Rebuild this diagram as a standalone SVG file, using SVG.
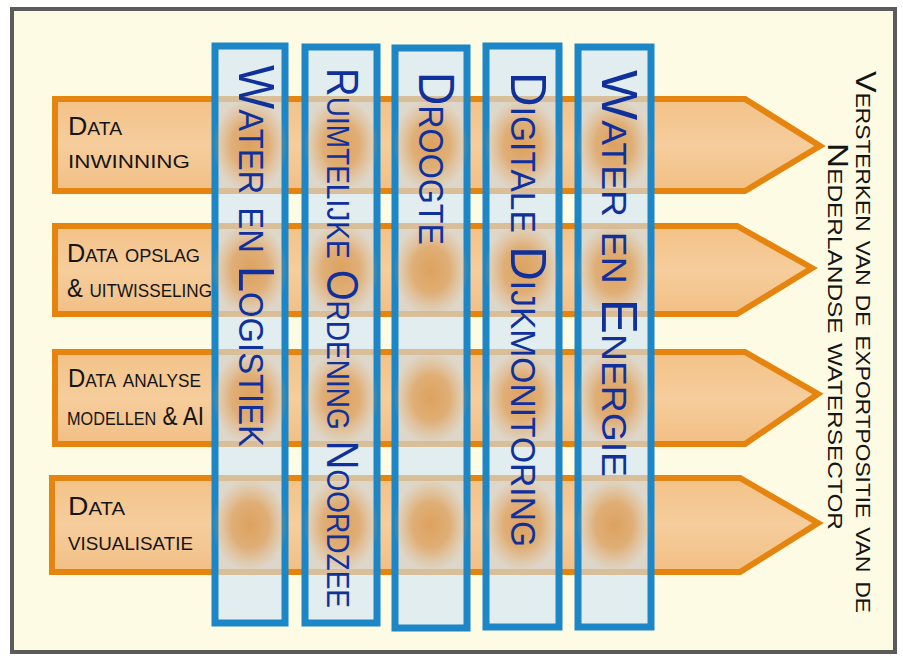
<svg xmlns="http://www.w3.org/2000/svg" width="903" height="657" viewBox="0 0 903 657">
<style>
.frame{fill:#FDFBE3;stroke:#5b5b5b;stroke-width:4}
.arrow{fill:url(#arrowFill);stroke:#E5850F;stroke-width:6;stroke-linejoin:miter}
.col{fill:#CFE5F5;fill-opacity:0.6;stroke:#1C86C6;stroke-width:7}
.coltxt{font-family:"Liberation Sans","DejaVu Sans",sans-serif;font-variant:small-caps;font-size:50px;fill:#10309C}
.lbl{font-family:"Liberation Sans","DejaVu Sans",sans-serif;font-variant:small-caps;font-size:25px;fill:#151515}
.goal{font-family:"Liberation Sans","DejaVu Sans",sans-serif;font-variant:small-caps;font-size:30px;fill:#151515}
.blob{fill:url(#blobFill)}
</style>
<defs>
<linearGradient id="arrowFill" x1="0" y1="0" x2="0" y2="1">
<stop offset="0" stop-color="#F3C288"/>
<stop offset="0.5" stop-color="#F6CD9C"/>
<stop offset="1" stop-color="#F2BF85"/>
</linearGradient>
<radialGradient id="blobFill">
<stop offset="0" stop-color="#DD8E38" stop-opacity="0.75"/>
<stop offset="0.5" stop-color="#E0923C" stop-opacity="0.6"/>
<stop offset="0.85" stop-color="#E6A052" stop-opacity="0.2"/>
<stop offset="1" stop-color="#E8A050" stop-opacity="0"/>
</radialGradient>
</defs>
<rect x="0" y="0" width="903" height="657" fill="#ffffff"/>
<rect class="frame" x="12" y="9" width="883" height="643"/>

<g id="connectors"></g>

<g id="arrow-inwinning">
<polygon class="arrow" points="55,99 745,99 820,146 745,191 55,191"/>
<text class="lbl" x="68" y="135" textLength="54" lengthAdjust="spacingAndGlyphs">Data</text>
<text class="lbl" x="68" y="168" textLength="122" lengthAdjust="spacingAndGlyphs">inwinning</text>
</g>
<g id="arrow-opslag">
<polygon class="arrow" points="55,226 737,226 812,268 737,314 55,314"/>
<text class="lbl" x="67" y="262" textLength="133" lengthAdjust="spacingAndGlyphs">Data opslag</text>
<text class="lbl" x="67" y="297" textLength="145" lengthAdjust="spacingAndGlyphs">&amp; uitwisseling</text>
</g>
<g id="arrow-analyse">
<polygon class="arrow" points="55,352 745,352 818,394 745,444 55,444"/>
<text class="lbl" x="68" y="387" textLength="133" lengthAdjust="spacingAndGlyphs">Data analyse</text>
<text class="lbl" x="67" y="425" textLength="137" lengthAdjust="spacingAndGlyphs">modellen &amp; AI</text>
</g>
<g id="arrow-visualisatie">
<polygon class="arrow" points="52,478 740,478 818,523 740,572 52,572"/>
<text class="lbl" x="68" y="515" textLength="57" lengthAdjust="spacingAndGlyphs">Data</text>
<text class="lbl" x="68" y="550" textLength="125" lengthAdjust="spacingAndGlyphs">visualisatie</text>
</g>

<g id="col-logistiek">
<rect class="col" x="215" y="46" width="70" height="577"/>
</g>
<g id="col-noordzee">
<rect class="col" x="305" y="47" width="72" height="576"/>
</g>
<g id="col-droogte">
<rect class="col" x="395" y="48" width="72" height="580"/>
</g>
<g id="col-dijkmonitoring">
<rect class="col" x="486" y="46" width="73" height="581"/>
</g>
<g id="col-energie">
<rect class="col" x="578" y="47" width="73" height="580"/>
</g>

<g id="blobs">
<ellipse class="blob" cx="250" cy="145" rx="38" ry="46"/>
<ellipse class="blob" cx="341" cy="145" rx="38" ry="46"/>
<ellipse class="blob" cx="431" cy="145" rx="38" ry="46"/>
<ellipse class="blob" cx="522" cy="145" rx="38" ry="46"/>
<ellipse class="blob" cx="614" cy="145" rx="38" ry="46"/>
<ellipse class="blob" cx="250" cy="270" rx="38" ry="46"/>
<ellipse class="blob" cx="341" cy="270" rx="38" ry="46"/>
<ellipse class="blob" cx="431" cy="270" rx="38" ry="46"/>
<ellipse class="blob" cx="522" cy="270" rx="38" ry="46"/>
<ellipse class="blob" cx="614" cy="270" rx="38" ry="46"/>
<ellipse class="blob" cx="250" cy="398" rx="38" ry="46"/>
<ellipse class="blob" cx="341" cy="398" rx="38" ry="46"/>
<ellipse class="blob" cx="431" cy="398" rx="38" ry="46"/>
<ellipse class="blob" cx="522" cy="398" rx="38" ry="46"/>
<ellipse class="blob" cx="614" cy="398" rx="38" ry="46"/>
<ellipse class="blob" cx="250" cy="525" rx="38" ry="46"/>
<ellipse class="blob" cx="341" cy="525" rx="38" ry="46"/>
<ellipse class="blob" cx="431" cy="525" rx="38" ry="46"/>
<ellipse class="blob" cx="522" cy="525" rx="38" ry="46"/>
<ellipse class="blob" cx="614" cy="525" rx="38" ry="46"/>
</g>

<g id="column-labels">
<text class="coltxt" transform="translate(239,65) rotate(90)" textLength="382" lengthAdjust="spacingAndGlyphs">Water en Logistiek</text>
<text class="coltxt" transform="translate(327,68) rotate(90)" textLength="540" lengthAdjust="spacingAndGlyphs" style="font-size:44px">Ruimtelijke Ordening Noordzee</text>
<text class="coltxt" transform="translate(419,72) rotate(90)" textLength="173" lengthAdjust="spacingAndGlyphs">Droogte</text>
<text class="coltxt" transform="translate(511,72) rotate(90)" textLength="475" lengthAdjust="spacingAndGlyphs">Digitale Dijkmonitoring</text>
<text class="coltxt" transform="translate(602,70) rotate(90)" textLength="407" lengthAdjust="spacingAndGlyphs">Water en Energie</text>
</g>

<g id="goal">
<text class="goal" transform="translate(856,71) rotate(90)" textLength="542" lengthAdjust="spacingAndGlyphs">Versterken van de exportpositie van de</text>
<text class="goal" transform="translate(828,143) rotate(90)" textLength="387" lengthAdjust="spacingAndGlyphs">Nederlandse watersector</text>
</g>
</svg>
